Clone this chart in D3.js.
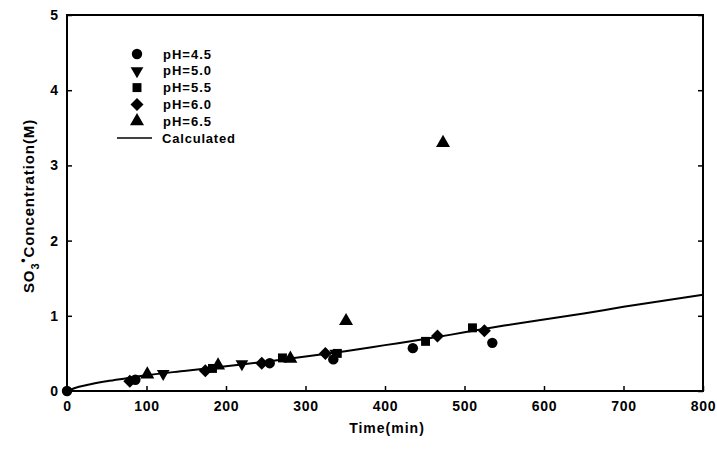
<!DOCTYPE html>
<html>
<head>
<meta charset="utf-8">
<script src="https://cdn.jsdelivr.net/npm/d3@7"></script>
<style>
  body { margin: 0; background: #fff; }
  text { font-family: "Liberation Sans", Arial, sans-serif; font-weight: bold; fill: #000; }
</style>
</head>
<body>
<svg width="717" height="449"></svg>
<script>
// measured points, time in min, concentration in M
const ph45 = [[0, 0], [86, 0.15], [255, 0.37], [335, 0.42], [435, 0.57], [535, 0.64]];
const ph50 = [[121, 0.23], [220, 0.36], [338, 0.50]];
const ph55 = [[183, 0.30], [271, 0.44], [340, 0.50], [451, 0.66], [510, 0.84]];
const ph60 = [[79, 0.13], [174, 0.27], [245, 0.37], [325, 0.50], [466, 0.73], [525, 0.80]];
const ph65 = [[101, 0.22], [190, 0.34], [281, 0.43], [351, 0.93], [473, 3.30]];

// calculated curve
const calcT = [0, 10, 25, 50, 75, 100, 150, 200, 250, 300, 350, 400, 450, 500, 550, 600, 650, 700, 750, 800];
const calcV = [0, 0.04, 0.08, 0.13, 0.17, 0.21, 0.27, 0.33, 0.39, 0.46, 0.53, 0.61, 0.69, 0.78, 0.87, 0.95, 1.03, 1.12, 1.20, 1.28];

const xTicks = [0, 100, 200, 300, 400, 500, 600, 700, 800];
const yTicks = [0, 1, 2, 3, 4, 5];

const series = [
  {label: 'pH=4.5', data: ph45, sym: d3.symbolCircle},
  {label: 'pH=5.0', data: ph50, sym: 'down'},
  {label: 'pH=5.5', data: ph55, sym: d3.symbolSquare},
  {label: 'pH=6.0', data: ph60, sym: 'diamond'},
  {label: 'pH=6.5', data: ph65, sym: d3.symbolTriangle}
];

const svg = d3.select('svg');
const m = {left: 67, right: 703, top: 15, bottom: 391};

const x = d3.scaleLinear().domain([0, 800]).range([m.left, m.right]);
const y = d3.scaleLinear().domain([0, 5]).range([m.bottom, m.top]);

// marker shapes
const marker = (g, sym) => {
  if (sym === 'down') {
    g.append('path').attr('d', d3.symbol(d3.symbolTriangle, 70)()).attr('transform', 'rotate(180)');
  } else if (sym === 'diamond') {
    g.append('path').attr('d', 'M0,-6.5L6.5,0L0,6.5L-6.5,0Z');
  } else {
    g.append('path').attr('d', d3.symbol(sym, sym === d3.symbolSquare ? 80 : 85)());
  }
};

// frame
svg.append('rect')
  .attr('x', m.left).attr('y', m.top)
  .attr('width', m.right - m.left).attr('height', m.bottom - m.top)
  .attr('fill', 'none').attr('stroke', '#000').attr('stroke-width', 2);

// axes with inward ticks
svg.append('g')
  .attr('transform', `translate(0,${m.bottom})`)
  .call(d3.axisBottom(x).tickValues(xTicks).tickSize(-5).tickPadding(10).tickFormat(d3.format('d')))
  .call(g => g.select('.domain').remove())
  .call(g => g.selectAll('line').attr('stroke-width', 1.5))
  .call(g => g.selectAll('text').attr('font-size', 14).attr('letter-spacing', 0.8));

svg.append('g')
  .attr('transform', `translate(${m.left},0)`)
  .call(d3.axisLeft(y).tickValues(yTicks).tickSize(-5).tickPadding(9).tickFormat(d3.format('d')))
  .call(g => g.select('.domain').remove())
  .call(g => g.selectAll('line').attr('stroke-width', 1.5))
  .call(g => g.selectAll('text').attr('font-size', 14));

svg.append('g')
  .attr('transform', `translate(${m.right},0)`)
  .call(d3.axisRight(y).tickValues(yTicks).tickSize(-5).tickFormat(''))
  .call(g => g.select('.domain').remove())
  .call(g => g.selectAll('line').attr('stroke-width', 1.5));

// calculated line
const calc = calcT.map((t, i) => [t, calcV[i]]);
svg.append('path')
  .datum(calc)
  .attr('fill', 'none').attr('stroke', '#000').attr('stroke-width', 2)
  .attr('d', d3.line().x(d => x(d[0])).y(d => y(d[1])).curve(d3.curveMonotoneX));

// points
series.forEach(s => {
  s.data.forEach(d => {
    const g = svg.append('g').attr('transform', `translate(${x(d[0])},${y(d[1])})`);
    marker(g, s.sym);
  });
});

// legend
const leg = svg.append('g').attr('transform', 'translate(137,54)');
series.forEach((s, i) => {
  const g = leg.append('g').attr('transform', `translate(0,${i * 16.8})`);
  marker(g, s.sym);
  g.append('text').attr('x', 26).attr('dy', '0.36em')
    .attr('font-size', 13).attr('letter-spacing', 1).text(s.label);
});
const lc = leg.append('g').attr('transform', `translate(0,${5 * 16.8})`);
lc.append('line').attr('x1', -20).attr('x2', 15).attr('stroke', '#000').attr('stroke-width', 1.5);
lc.append('text').attr('x', 25).attr('dy', '0.36em')
  .attr('font-size', 13).attr('letter-spacing', 0.8).text('Calculated');

// axis titles
svg.append('text')
  .attr('x', (m.left + m.right) / 2 + 2).attr('y', 433)
  .attr('text-anchor', 'middle').attr('font-size', 14).attr('letter-spacing', 1)
  .text('Time(min)');

const yt = svg.append('text')
  .attr('transform', 'translate(34,206) rotate(-90)')
  .attr('text-anchor', 'middle').attr('font-size', 15).attr('letter-spacing', 0.9);
yt.append('tspan').text('SO');
yt.append('tspan').attr('font-size', 11).attr('dy', 5).text('3');
yt.append('tspan').attr('font-size', 12).attr('dy', -12).text('•');
yt.append('tspan').attr('dy', 7).text('Concentration(M)');
</script>
</body>
</html>
